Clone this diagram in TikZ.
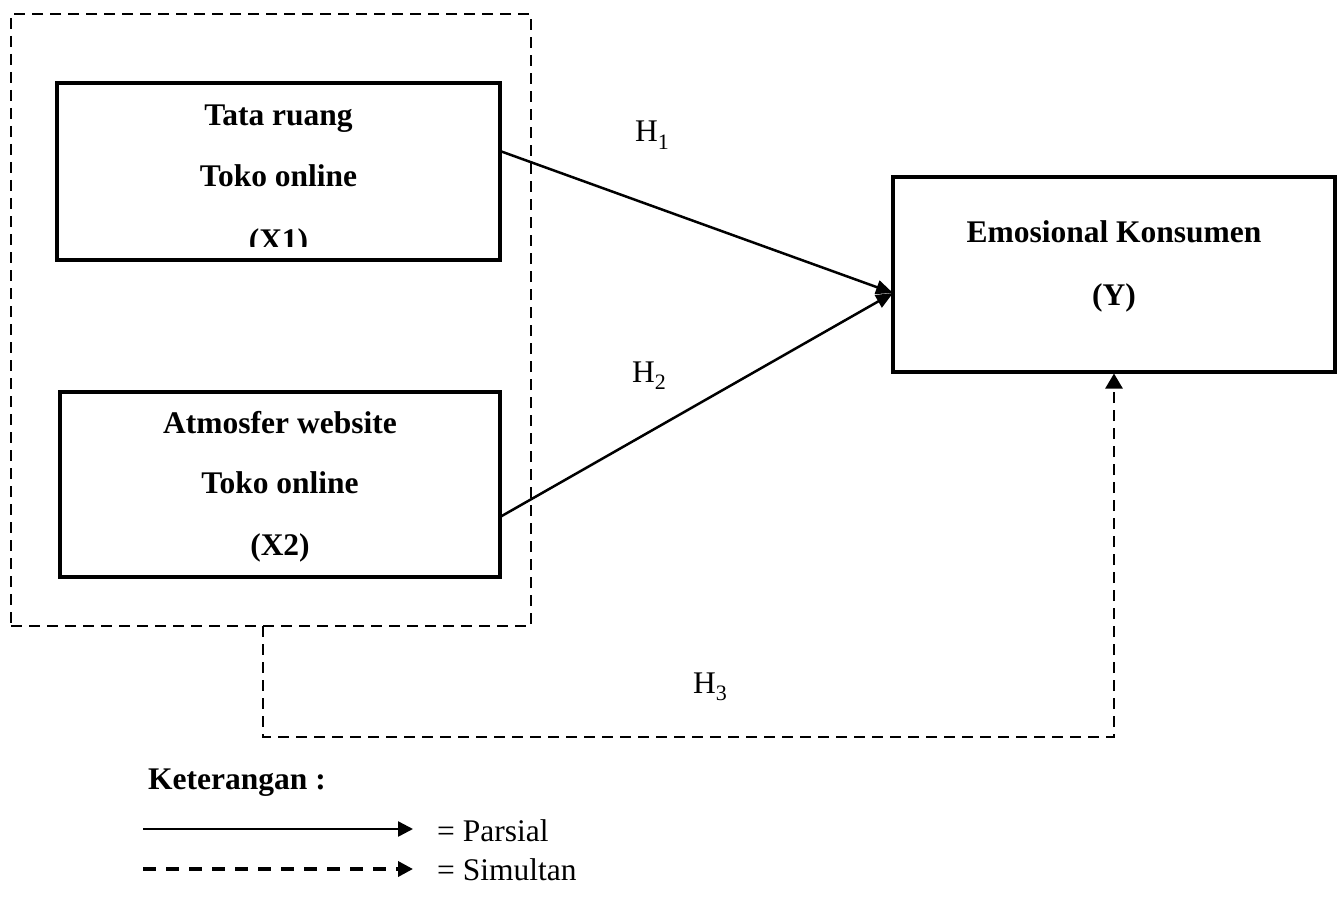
\documentclass[tikz,border=0pt]{standalone}
\usepackage{fontspec}
\setmainfont{Liberation Serif}
\usetikzlibrary{arrows.meta}
\begin{document}
\begin{tikzpicture}[x=1pt,y=-1pt,
  varbox/.style={draw,line width=4pt,minimum width=#1,inner sep=0pt},
  btext/.style={font=\fontsize{31.5}{36}\selectfont\bfseries,anchor=base,inner sep=0pt},
  rtext/.style={font=\fontsize{31.5}{36}\selectfont,anchor=base west,inner sep=0pt},
  grpbox/.style={draw,line width=2.5pt,dash pattern=on 11pt off 7pt,inner sep=0pt},
  solidarrow/.style={line width=2.5pt,-{Triangle[length=17pt,width=14pt]}},
  dasharrow/.style={line width=2.5pt,dash pattern=on 11pt off 7pt,-{Triangle[length=15pt,width=17pt]}},
  legsolid/.style={line width=2.5pt,-{Triangle[length=15pt,width=15pt]}},
  legdash/.style={line width=3.5pt,dash pattern=on 13pt off 10pt,-{Triangle[length=15pt,width=15pt]}},
]
\useasboundingbox (0,0) rectangle (1337,909);
\fill[white] (0,0) rectangle (1337,909);

% group box
\node[grpbox,minimum width=520pt,minimum height=612pt] (grp) at (271,320) {};

% X1
\node[varbox=443pt,minimum height=177pt] (x1) at (278.5,171.5) {};
\node[btext] (x1a) at (278.5,126) {Tata ruang};
\node[btext] (x1b) at (278.5,187) {Toko online};
\begin{scope}
\clip (57,83) rectangle (500,246);
\node[btext] (x1c) at (278.5,251) {(X1)};
\end{scope}

% X2
\node[varbox=440pt,minimum height=185pt] (x2) at (280,484) {};
\node[btext] (x2a) at (280,433) {Atmosfer website};
\node[btext] (x2b) at (280,493) {Toko online};
\node[btext] (x2c) at (280,555) {(X2)};

% Y
\node[varbox=442pt,minimum height=194pt] (y) at (1114,274.5) {};
\node[btext] (ya) at (1114,242) {Emosional Konsumen};
\node[btext] (yb) at (1114,305) {(Y)};

% arrows
\coordinate (h1s) at (500,151);
\coordinate (h2s) at (500,517);
\coordinate (tip) at (893,293);
\draw[solidarrow] (h1s) -- (tip);
\draw[solidarrow] (h2s) -- (tip);

% labels
\node[rtext] (h1) at (635,142) {H\raisebox{-0.25em}{\fontsize{22}{22}\selectfont 1}};
\node[rtext] (h2) at (632,382) {H\raisebox{-0.25em}{\fontsize{22}{22}\selectfont 2}};
\node[rtext] (h3) at (693,693) {H\raisebox{-0.25em}{\fontsize{22}{22}\selectfont 3}};

% simultaneous connector
\coordinate (h3s) at (263,626);
\draw[dasharrow] (h3s) -- (263,737) -| (y.south);

% legend
\node[btext,anchor=base west] (ket) at (148,789) {Keterangan :};
\coordinate (l1a) at (143,829);
\coordinate (l1b) at (413,829);
\draw[legsolid] (l1a) -- (l1b);
\node[rtext] (par) at (437,841) {= Parsial};
\coordinate (l2a) at (143,869);
\coordinate (l2b) at (413,869);
\draw[legdash] (l2a) -- (l2b);
\node[rtext] (sim) at (437,880) {= Simultan};
\end{tikzpicture}
\end{document}
